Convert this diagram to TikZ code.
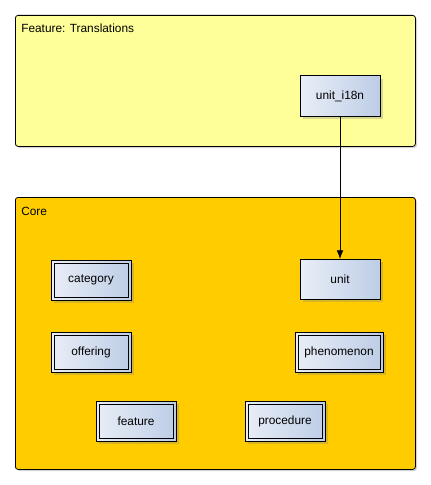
\documentclass[tikz,border=0pt]{standalone}
\usepackage{fontspec}
\setmainfont{Liberation Sans}
\usetikzlibrary{arrows.meta, positioning, shadows}

\definecolor{featyellow}{HTML}{FFFF99}
\definecolor{coreorange}{HTML}{FFCC00}
\definecolor{boxleft}{HTML}{E9EEF7}
\definecolor{boxright}{HTML}{BDCDE6}

\begin{document}
\begin{tikzpicture}[
    x=0.75pt, y=-0.75pt,
    font=\fontsize{8.9}{10}\selectfont,
    package/.style={rectangle, draw, rounded corners=2pt, line width=0.6pt, anchor=north west,
        drop shadow={shadow xshift=1.2pt, shadow yshift=-1.2pt, opacity=0.35}},
    title/.style={anchor=west, inner sep=0pt},
    entity/.style={rectangle, draw, line width=0.75pt, minimum width=60pt, minimum height=30pt,
        left color=boxleft, right color=boxright,
        drop shadow={shadow xshift=2pt, shadow yshift=-2pt, opacity=0.3}},
    weak/.style={entity, line width=0.6pt,
        path picture={\draw[line width=0.6pt]
            ([shift={(2.2pt,-2.2pt)}]path picture bounding box.north west) rectangle
            ([shift={(-2.2pt,2.2pt)}]path picture bounding box.south east);}},
    arrow/.style={-{Latex[length=6.5pt, width=5pt]}, line width=0.6pt}
]
\useasboundingbox (0,0) rectangle (430,485);

% packages
\node[package, fill=featyellow, minimum width=300pt, minimum height=98.25pt] (transl) at (15,15) {};
\node[title] (transltitle) at (21,28.5) {Feature: Translations};
\node[package, fill=coreorange, minimum width=300pt, minimum height=204pt] (core) at (15,197) {};
\node[title] (coretitle) at (21,211.5) {Core};

% entities
\node[entity] (uniti18n) at (340,96) {unit\_i18n};
\node[entity] (unit) at (340,279.5) {unit};
\node[weak] (category) at (91,280) {category};
\node[weak, below=24pt of category] (offering) {offering};
\node[weak, minimum width=0pt, inner xsep=7pt] (phenomenon) at (339,352) {phenomenon};
\node[weak] (feature) at (136,421.5) {feature};
\node[weak] (procedure) at (285,421) {procedure};

\draw[arrow] (uniti18n) -- (unit);
\end{tikzpicture}
\end{document}
